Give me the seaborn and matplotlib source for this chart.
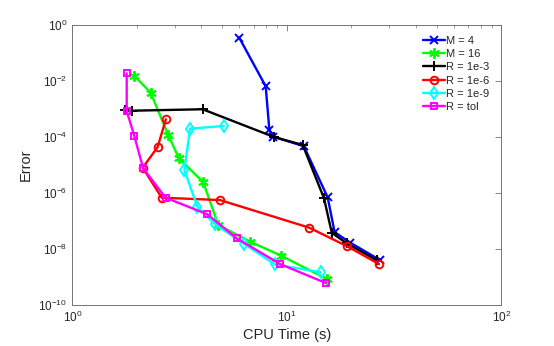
import numpy as np
import pandas as pd
import matplotlib
matplotlib.use("Agg")
import matplotlib.pyplot as plt
from matplotlib.ticker import LogLocator, NullLocator, NullFormatter, LogFormatterMathtext
import seaborn as sns

# CPU time (s) and error for each run
m4_time = [6.0, 7.97, 8.29, 8.65, 12.0, 15.5, 16.7, 19.7, 27.2]
m4_err = [0.352, 6.5e-3, 1.78e-4, 1.02e-4, 4.7e-5, 7.0e-7, 4.0e-8, 1.7e-8, 4.0e-9]

m16_time = [1.945, 2.32, 2.80, 3.14, 4.08, 4.79, 6.74, 9.4, 15.35]
m16_err = [0.0155, 3.8e-3, 1.18e-4, 1.74e-5, 2.4e-6, 7.2e-8, 1.83e-8, 5.8e-9, 8.5e-10]

r3_time = [1.76, 1.905, 4.05, 8.72, 11.86, 14.9, 16.2, 19.0, 26.2]
r3_err = [9.2e-4, 8.7e-4, 9.8e-4, 1.0e-4, 5.2e-5, 6.5e-7, 3.8e-8, 1.6e-8, 4.0e-9]

r6_time = [2.73, 2.50, 2.13, 2.61, 4.88, 12.7, 19.0, 26.9]
r6_err = [4.3e-4, 4.4e-5, 8.0e-6, 6.8e-7, 5.6e-7, 5.8e-8, 1.28e-8, 2.9e-9]

r9_time = [5.08, 3.54, 3.33, 3.83, 4.63, 6.34, 8.81, 14.4]
r9_err = [2.47e-4, 2.0e-4, 6.6e-6, 3.2e-7, 7.6e-8, 1.5e-8, 2.8e-9, 1.47e-9]

rtol_time = [1.793, 1.793, 1.945, 2.14, 2.72, 4.26, 5.84, 9.3, 15.2]
rtol_err = [0.0188, 8.5e-4, 1.1e-4, 7.6e-6, 6.8e-7, 1.74e-7, 2.4e-8, 2.9e-9, 6.1e-10]

# label, x, y, colour, marker, marker size
series = [
    ("M = 4", m4_time, m4_err, "#0000ff", "x", 6),
    ("M = 16", m16_time, m16_err, "#00ff00", (6, 2, 0), 7.5),
    ("R = 1e-3", r3_time, r3_err, "#000000", "+", 7),
    ("R = 1e-6", r6_time, r6_err, "#ff0000", "o", 5.5),
    ("R = 1e-9", r9_time, r9_err, "#00ffff", "d", 6),
    ("R = tol", rtol_time, rtol_err, "#ff00ff", "s", 5),
]

sns.set_style("white")
plt.rcParams["font.family"] = ["Liberation Sans", "DejaVu Sans"]

fig = plt.figure(figsize=(5.54, 3.46), dpi=100)
ax = fig.add_axes([0.1305, 0.1185, 0.7745, 0.8092])

for name, t, e, col, mk, ms in series:
    df = pd.DataFrame({"time": t, "err": e})
    sns.lineplot(data=df, x="time", y="err", ax=ax, sort=False, estimator=None,
                 color=col, marker=mk, markersize=ms, markeredgewidth=1.4,
                 markerfacecolor="none", markeredgecolor=col, linewidth=1.7,
                 label=name)

ax.set_xscale("log")
ax.set_yscale("log")
ax.set_xlim(1, 100)
ax.set_ylim(1e-10, 1)

ax.xaxis.set_major_locator(LogLocator(base=10, numticks=5))
ax.xaxis.set_minor_locator(LogLocator(base=10, subs=np.arange(2, 10), numticks=20))
ax.xaxis.set_minor_formatter(NullFormatter())
ax.yaxis.set_major_locator(LogLocator(base=100, numticks=10))
ax.yaxis.set_minor_locator(NullLocator())
ax.xaxis.set_major_formatter(LogFormatterMathtext())
ax.yaxis.set_major_formatter(LogFormatterMathtext())

ax.tick_params(which="both", direction="in", top=True, right=True,
               color="0.45", labelsize=8.5, labelcolor="0.15")
ax.tick_params(which="major", length=4, width=0.6)
ax.tick_params(which="minor", length=2.5, width=0.5)
for sp in ax.spines.values():
    sp.set_color("0.45")
    sp.set_linewidth(0.7)

ax.set_xlabel("CPU Time (s)", fontsize=10.5, color="0.15", labelpad=2)
ax.set_ylabel("Error", fontsize=10.5, color="0.15", labelpad=4)

ax.legend(loc="upper right", frameon=False, fontsize=8, handlelength=2.0,
          handletextpad=0.1, labelspacing=0.3, borderaxespad=0.3,
          bbox_to_anchor=(0.99, 0.99))

fig.savefig("out.png", dpi=100)
